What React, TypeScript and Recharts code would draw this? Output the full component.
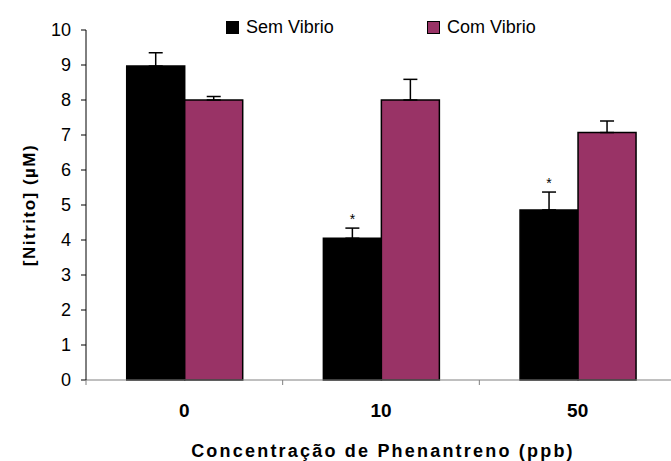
// Nitrito por concentração de fenantreno, com e sem Vibrio
import { BarChart, Bar, XAxis, YAxis, ErrorBar, Legend, Label, LabelList } from "recharts";

const FONT = "'Liberation Sans', Arial, sans-serif";
const ROXO = "#993366";
const MARGEM_X = 24;

// categorias do eixo X (ppb)
const doses = ["0", "10", "50"];
// médias e erros (µM)
const semVibrio = [8.97, 4.05, 4.86];
const semErro = [0.38, 0.29, 0.51];
const comVibrio = [8.0, 8.0, 7.07];
const comErro = [0.1, 0.59, 0.33];
// diferença significativa (asterisco)
const signif = [false, true, true];
const yTicks = [0, 1, 2, 3, 4, 5, 6, 7, 8, 9, 10];
const series = ["Sem Vibrio", "Com Vibrio"];

const data = doses.map((d, i) => ({
  dose: d,
  sem: semVibrio[i],
  semErr: [0, semErro[i]],
  com: comVibrio[i],
  comErr: [0, comErro[i]],
}));

// asterisco acima da barra de erro
function Asterisco(props: any) {
  const vb = props.viewBox ?? props;
  const { x, y, width, height } = vb;
  const i = props.index;
  if (!signif[i]) return null;
  const pxPorUnidade = height / semVibrio[i];
  const topoErro = y - semErro[i] * pxPorUnidade;
  return (
    <text x={x + width / 2} y={topoErro - 4} textAnchor="middle" fontSize={14} fontFamily={FONT} fill="#000">
      *
    </text>
  );
}

// rótulo da categoria + marcas nos limites de cada categoria
function RotuloX(props: any) {
  const { x, y, payload, index } = props;
  const meia = payload?.offset ?? 0;
  const y0 = y - MARGEM_X;
  return (
    <g>
      <line x1={x - meia} x2={x - meia} y1={y0} y2={y0 + 5} stroke="#808080" />
      {index === doses.length - 1 && (
        <line x1={x + meia} x2={x + meia} y1={y0} y2={y0 + 5} stroke="#808080" />
      )}
      <text x={x} y={y} dy="0.71em" textAnchor="middle" fontSize={19} fontWeight="bold" fontFamily={FONT} fill="#000">
        {payload.value}
      </text>
    </g>
  );
}

function TituloY(props: any) {
  const { x, y, height } = props.viewBox;
  const cx = x + 35;
  const cy = y + height / 2;
  return (
    <text
      x={cx}
      y={cy}
      transform={`rotate(-90 ${cx} ${cy})`}
      textAnchor="middle"
      fontSize={17}
      fontWeight="bold"
      letterSpacing={1.5}
      fontFamily={FONT}
      fill="#000"
    >
      [Nitrito] (µM)
    </text>
  );
}

function TituloX(props: any) {
  const { x, y, width } = props.viewBox;
  return (
    <text
      x={x + width / 2 + 2}
      y={y + 76.5}
      textAnchor="middle"
      fontSize={18}
      fontWeight="bold"
      letterSpacing={2.2}
      fontFamily={FONT}
      fill="#000"
    >
      Concentração de Phenantreno (ppb)
    </text>
  );
}

function Legenda(props: any) {
  const itens = [...(props.payload ?? [])].sort(
    (a: any, b: any) => series.indexOf(a.value) - series.indexOf(b.value)
  );
  return (
    <div style={{ display: "flex", fontFamily: FONT, fontSize: 18, lineHeight: "18px", color: "#000" }}>
      {itens.map((item: any) => (
        <div key={item.value} style={{ display: "flex", alignItems: "center", width: 201, height: 18 }}>
          <span
            style={{
              display: "inline-block",
              width: 11,
              height: 11,
              background: item.color,
              border: "1px solid #000",
              marginRight: 7,
            }}
          />
          <span>{item.value}</span>
        </div>
      ))}
    </div>
  );
}

export default function App() {
  return (
    <div style={{ position: "absolute", left: 0, top: 0, background: "#fff" }}>
      <BarChart
        width={671}
        height={461}
        data={data}
        margin={{ top: 30, right: -5, bottom: 0, left: 0 }}
        barCategoryGap="20.7%"
        barGap={0}
      >
        <XAxis
          dataKey="dose"
          height={81}
          tickLine={false}
          tickSize={0}
          tickMargin={MARGEM_X}
          axisLine={{ stroke: "#808080" }}
          tick={RotuloX}
        >
          <Label content={TituloX} />
        </XAxis>
        <YAxis
          width={86}
          domain={[0, 10]}
          ticks={yTicks}
          interval={0}
          tickSize={5}
          tickMargin={10}
          axisLine={{ stroke: "#000" }}
          tickLine={{ stroke: "#000" }}
          tick={{ fontSize: 18, fill: "#000", fontFamily: FONT }}
        >
          <Label content={TituloY} />
        </YAxis>
        <Legend
          verticalAlign="middle"
          align="center"
          layout="horizontal"
          itemSorter={null}
          content={Legenda}
          wrapperStyle={{ top: 18, left: 226, width: "auto", height: "auto" }}
        />
        <Bar dataKey="sem" name={series[0]} fill="#000" stroke="#000" strokeWidth={1.5} isAnimationActive={false}>
          <ErrorBar dataKey="semErr" direction="y" width={7} stroke="#000" strokeWidth={1.5} />
          <LabelList dataKey="sem" content={Asterisco} />
        </Bar>
        <Bar dataKey="com" name={series[1]} fill={ROXO} stroke="#000" strokeWidth={1.5} isAnimationActive={false}>
          <ErrorBar dataKey="comErr" direction="y" width={7} stroke="#000" strokeWidth={1.5} />
        </Bar>
      </BarChart>
    </div>
  );
}
